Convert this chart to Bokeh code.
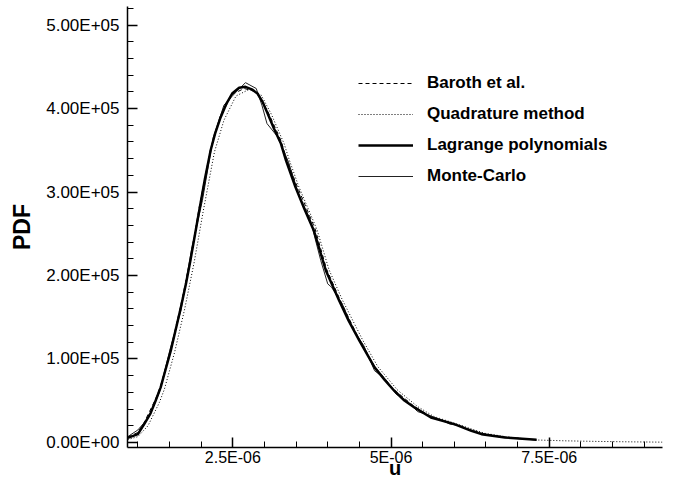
import numpy as np
from bokeh.plotting import figure
from bokeh.models import Range1d, FixedTicker, Legend, LegendItem
from bokeh.embed import file_html
from bokeh.resources import INLINE

# ---- data (u in 1e-6, PDF in 1e3) ----
lag_u = [0.84, 1.0, 1.1, 1.2, 1.28, 1.36, 1.44, 1.52, 1.6, 1.68, 1.76, 1.83, 1.9, 1.97, 2.06, 2.15, 2.22, 2.3,
         2.4, 2.49, 2.6, 2.7, 2.8, 2.89, 2.97, 3.05, 3.15, 3.26, 3.34, 3.49, 3.63, 3.78, 3.97, 4.18, 4.33,
         4.5, 4.74, 4.9, 5.05, 5.2, 5.37, 5.63, 6.0, 6.27, 6.43, 6.8, 7.3]
lag_pdf = [5.6, 10, 22, 35, 50, 66, 88, 110, 136, 162, 190, 218, 248, 278, 316, 350, 370, 388,
           406, 418, 425, 426, 423, 418, 408, 394, 376, 358, 338, 306, 280, 254, 206, 170, 146,
           122, 90, 75, 62, 51, 42, 30, 22, 14, 10, 6, 3.2]

bar_u = [0.84, 1.0, 1.1, 1.28, 1.36, 1.52, 1.68, 1.83, 1.97, 2.15, 2.3, 2.49, 2.68, 2.87, 3.05,
         3.26, 3.34, 3.5, 3.8, 3.98, 4.2, 4.5, 4.75, 5.05, 5.37, 5.63, 6.0, 6.27, 6.43, 6.8, 7.1]
bar_pdf = [6.5, 12, 24, 52, 68, 112, 165, 220, 282, 352, 390, 417, 424, 420, 397,
           362, 342, 310, 256, 208, 170, 123, 90, 63, 43, 31, 22, 15, 11, 6.5, 4.5]

quad_u = [0.84, 1.0, 1.16, 1.34, 1.42, 1.58, 1.74, 1.89, 2.03, 2.21, 2.36, 2.55, 2.76, 2.95, 3.11,
          3.31, 3.39, 3.54, 3.83, 4.02, 4.23, 4.55, 4.79, 5.1, 5.42, 5.68, 6.05, 6.32, 6.48, 6.85, 7.3,
          7.75, 8.25, 8.75, 9.29]
quad_pdf = [3.5, 7, 20, 48, 64, 108, 160, 216, 276, 348, 386, 415, 423, 416, 393,
            358, 339, 307, 255, 207, 171, 123, 91, 63, 43, 31, 22, 15, 11, 6.5, 3.0,
            2.0, 1.3, 0.8, 0.4]

mc_u = [0.84, 1.0, 1.17, 1.34, 1.51, 1.68, 1.85, 2.02, 2.19, 2.36, 2.53, 2.7, 2.87, 2.96, 3.04,
        3.21, 3.38, 3.55, 3.72, 3.89, 4.0, 4.06, 4.23, 4.4, 4.57, 4.74, 4.91, 5.08, 5.25, 5.42,
        5.59, 5.76, 5.93, 6.1, 6.27, 6.44, 6.61, 6.78, 6.95, 7.12, 7.3]
mc_pdf = [7, 15, 30, 60, 112, 158, 232, 290, 365, 404, 418, 431, 424, 404, 382,
          366, 336, 295, 268, 218, 190, 186, 166, 136, 116, 86, 76, 58, 50, 37,
          33, 28, 22, 20, 14, 11, 8, 6, 5, 4, 3]

x_ticks = [2.5e-6, 5e-6, 7.5e-6]
x_tick_labels = ["2.5E-06", "5E-06", "7.5E-06"]
x_minor = [1e-6, 1.5e-6, 2e-6, 3e-6, 3.5e-6, 4e-6, 4.5e-6, 5.5e-6, 6e-6, 6.5e-6, 7e-6, 8e-6, 8.5e-6, 9e-6]
y_ticks = [0, 100000, 200000, 300000, 400000, 500000]
y_tick_labels = ["0.00E+00", "1.00E+05", "2.00E+05", "3.00E+05", "4.00E+05", "5.00E+05"]
y_minor = [v * 20000 for v in range(0, 27)]
x_title = "u"
y_title = "PDF"

U = 1e-6
P = 1e3

FONT = "Liberation Sans"

p = figure(width=673, height=482, output_backend="svg", toolbar_location=None,
           x_range=Range1d(0.836e-6, 9.29e-6), y_range=Range1d(-6000, 522200),
           min_border_left=127, min_border_right=11, min_border_top=6, min_border_bottom=35)
p.outline_line_color = None
p.grid.visible = False
p.background_fill_color = "white"
p.border_fill_color = "white"

r_bar = p.line(np.array(bar_u) * U, np.array(bar_pdf) * P, line_color="black", line_width=1,
               line_dash="4 3")
r_quad = p.line(np.array(quad_u) * U, np.array(quad_pdf) * P, line_color="black", line_width=1,
                line_dash="1 2")
r_mc = p.line(np.array(mc_u) * U, np.array(mc_pdf) * P, line_color="#222222", line_width=1)
r_lag = p.line(np.array(lag_u) * U, np.array(lag_pdf) * P, line_color="black", line_width=2.5,
               line_join="round")

for ax, ticks, minor, labels in ((p.xaxis[0], x_ticks, x_minor, x_tick_labels),
                                 (p.yaxis[0], y_ticks, y_minor, y_tick_labels)):
    ax.ticker = FixedTicker(ticks=ticks, minor_ticks=minor)
    ax.major_label_overrides = dict(zip(ticks, labels))
    ax.axis_line_width = 1.5
    ax.axis_line_color = "black"
    ax.major_tick_in = 10
    ax.major_tick_out = 0
    ax.minor_tick_in = 6
    ax.minor_tick_out = 0
    ax.major_tick_line_width = 1.5
    ax.minor_tick_line_width = 1
    ax.major_label_text_font = FONT
    ax.major_label_text_color = "black"

p.xaxis.major_label_text_font_size = "16px"
p.yaxis.major_label_text_font_size = "17px"

p.xaxis.major_label_standoff = 1
p.xaxis.axis_label = x_title
p.xaxis.axis_label_text_font = FONT
p.xaxis.axis_label_text_font_style = "bold"
p.xaxis.axis_label_text_font_size = "20px"
p.xaxis.axis_label_standoff = -12
p.xaxis.axis_label_text_color = "black"

p.yaxis.major_label_standoff = 8
p.yaxis.axis_label = y_title
p.yaxis.axis_label_text_font = FONT
p.yaxis.axis_label_text_font_style = "bold"
p.yaxis.axis_label_text_font_size = "23px"
p.yaxis.axis_label_standoff = 8
p.yaxis.axis_label_text_color = "black"

legend = Legend(items=[LegendItem(label="Baroth et al.", renderers=[r_bar]),
                       LegendItem(label="Quadrature method", renderers=[r_quad]),
                       LegendItem(label="Lagrange polynomials", renderers=[r_lag]),
                       LegendItem(label="Monte-Carlo", renderers=[r_mc])],
                location=(231, 261), padding=0, margin=0,
                border_line_alpha=0, background_fill_alpha=0,
                glyph_width=55, glyph_height=20, label_height=20, spacing=11,
                label_standoff=14, label_text_font=FONT, label_text_font_style="bold",
                label_text_font_size="17px", label_text_color="black")
p.add_layout(legend, "center")

open("out.html", "w").write(file_html(p, INLINE))
